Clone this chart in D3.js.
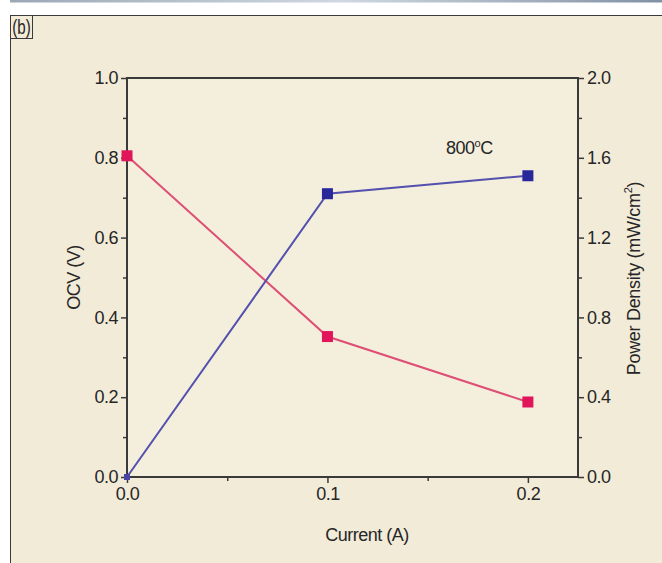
<!DOCTYPE html>
<html>
<head>
<meta charset="utf-8">
<script src="https://cdn.jsdelivr.net/npm/d3@7"></script>
<style>
  html, body { margin: 0; padding: 0; background: #fff; }
  svg { display: block; }
  text { font-family: "Liberation Sans", Arial, sans-serif; fill: #262626; }
</style>
</head>
<body>
<svg id="chart" width="662" height="563"></svg>
<script>
// Current (A) at each measurement
const current = [0.0, 0.1, 0.2];
// Open-circuit voltage (V), left axis
const ocv = [0.805, 0.352, 0.188];
// Power density (mW/cm²), right axis
const powerDensity = [0.0, 1.42, 1.51];

const xTicks = [0.0, 0.1, 0.2];
const yLeftTicks = [0.0, 0.2, 0.4, 0.6, 0.8, 1.0];
const yRightTicks = [0.0, 0.4, 0.8, 1.2, 1.6, 2.0];

const svg = d3.select("#chart");
const W = 662, H = 563;
const FONT = "\"Liberation Sans\", Arial, sans-serif";

// Page header strip and panel background
const grad = svg.append("defs").append("linearGradient").attr("id", "hdr");
grad.append("stop").attr("offset", "0%").attr("stop-color", "#9aa8b6");
grad.append("stop").attr("offset", "50%").attr("stop-color", "#cfd8e0");
grad.append("stop").attr("offset", "100%").attr("stop-color", "#7f8fa2");
svg.append("rect").attr("x", 10).attr("y", 0).attr("width", W).attr("height", 2.5).attr("fill", "url(#hdr)");
svg.append("rect").attr("x", 10.5).attr("y", 15.5).attr("width", W).attr("height", H)
  .attr("fill", "#f2ebd8").attr("stroke", "#3a3a3a").attr("stroke-width", 1);

// Panel tag
svg.append("rect").attr("x", 10.5).attr("y", 15.5).attr("width", 22).attr("height", 23)
  .attr("fill", "none").attr("stroke", "#3a3a3a").attr("stroke-width", 1);
svg.append("text").attr("transform", "translate(21.5,34) scale(0.72,1)").attr("text-anchor", "middle")
  .attr("font-size", 21).text("(b)");

const m = { left: 127, right: 578, top: 78, bottom: 477 };

const x = d3.scaleLinear().domain([0, 0.225]).range([m.left, m.right]);
const yL = d3.scaleLinear().domain([0, 1.0]).range([m.bottom, m.top]);
const yR = d3.scaleLinear().domain([0, 2.0]).range([m.bottom, m.top]);

const axisColor = "#3a3a3a";
const tickFont = 18;

// Frame
svg.append("rect").attr("x", m.left).attr("y", m.top)
  .attr("width", m.right - m.left).attr("height", m.bottom - m.top)
  .attr("fill", "#f4eedd").attr("stroke", axisColor).attr("stroke-width", 2);

function styleAxis(g) {
  g.select(".domain").remove();
  g.selectAll("line").attr("stroke", axisColor).attr("stroke-width", 1.5);
  g.selectAll("text").attr("font-size", tickFont).attr("fill", "#262626")
    .attr("font-family", FONT).attr("letter-spacing", -0.5);
}

// Bottom axis, major + minor
svg.append("g").attr("transform", `translate(0,${m.bottom})`)
  .call(d3.axisBottom(x).tickValues(xTicks).tickFormat(d3.format(".1f")).tickSize(6).tickPadding(4))
  .call(styleAxis);
svg.append("g").attr("transform", `translate(0,${m.bottom})`)
  .call(d3.axisBottom(x).tickValues([0.05, 0.15]).tickFormat("").tickSize(4))
  .call(styleAxis);

// Left axis
svg.append("g").attr("transform", `translate(${m.left},0)`)
  .call(d3.axisLeft(yL).tickValues(yLeftTicks).tickFormat(d3.format(".1f")).tickSize(6).tickPadding(3))
  .call(styleAxis);
svg.append("g").attr("transform", `translate(${m.left},0)`)
  .call(d3.axisLeft(yL).tickValues([0.1, 0.3, 0.5, 0.7, 0.9]).tickFormat("").tickSize(4))
  .call(styleAxis);

// Right axis
svg.append("g").attr("transform", `translate(${m.right},0)`)
  .call(d3.axisRight(yR).tickValues(yRightTicks).tickFormat(d3.format(".1f")).tickSize(6).tickPadding(3))
  .call(styleAxis);
svg.append("g").attr("transform", `translate(${m.right},0)`)
  .call(d3.axisRight(yR).tickValues([0.2, 0.6, 1.0, 1.4, 1.8]).tickFormat("").tickSize(4))
  .call(styleAxis);

// Axis titles
svg.append("text").attr("x", 367).attr("y", 541)
  .attr("text-anchor", "middle").attr("font-size", 18).attr("letter-spacing", -0.5).text("Current (A)");
svg.append("text").attr("transform", `translate(80,${(m.top + m.bottom) / 2}) rotate(-90)`)
  .attr("text-anchor", "middle").attr("font-size", 18).attr("letter-spacing", -0.5).text("OCV (V)");
const rt = svg.append("text").attr("transform", `translate(640,${(m.top + m.bottom) / 2 + 1}) rotate(-90)`)
  .attr("text-anchor", "middle").attr("font-size", 18).attr("letter-spacing", -0.3);
rt.append("tspan").text("Power Density (mW/cm");
rt.append("tspan").attr("font-size", 11).attr("dy", -8).text("2");
rt.append("tspan").attr("dy", 8).text(")");

// Series
const ocvPts = current.map((c, i) => [c, ocv[i]]);
const pdPts = current.map((c, i) => [c, powerDensity[i]]);

svg.append("path").datum(ocvPts)
  .attr("d", d3.line().x(d => x(d[0])).y(d => yL(d[1])))
  .attr("fill", "none").attr("stroke", "#de4f74").attr("stroke-width", 2);
svg.append("path").datum(pdPts)
  .attr("d", d3.line().x(d => x(d[0])).y(d => yR(d[1])))
  .attr("fill", "none").attr("stroke", "#5450ad").attr("stroke-width", 2);

const sz = 11;
svg.append("g").selectAll("rect").data(ocvPts).join("rect")
  .attr("x", d => x(d[0]) - sz / 2).attr("y", d => yL(d[1]) - sz / 2)
  .attr("width", sz).attr("height", sz).attr("fill", "#e0155a");
svg.append("g").selectAll("rect").data(pdPts.slice(1)).join("rect")
  .attr("x", d => x(d[0]) - sz / 2).attr("y", d => yR(d[1]) - sz / 2)
  .attr("width", sz).attr("height", sz).attr("fill", "#28289a");
// small marker at origin, mostly hidden under the axes
svg.append("rect").attr("x", x(0) - 3).attr("y", yR(0) - 3).attr("width", 6).attr("height", 6).attr("fill", "#4a44a8");

// Temperature annotation
const t = svg.append("text").attr("x", 446).attr("y", 154).attr("font-size", 18).attr("letter-spacing", -0.5);
t.append("tspan").text("800");
t.append("tspan").attr("font-size", 11).attr("dy", -7).text("o");
t.append("tspan").attr("dy", 7).text("C");
</script>
</body>
</html>
